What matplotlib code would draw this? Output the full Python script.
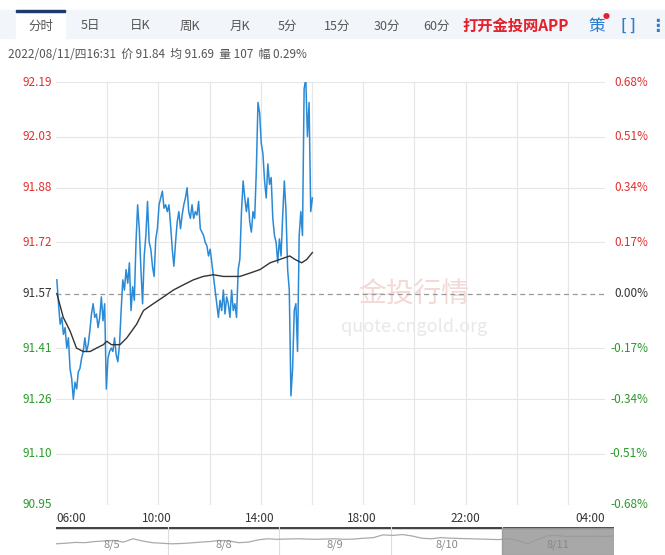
import numpy as np
import matplotlib
matplotlib.use("Agg")
import matplotlib.pyplot as plt
from matplotlib.patches import Rectangle

plt.rcParams['font.family'] = ['Noto Sans CJK SC', 'DejaVu Sans']

base = 91.57
yticks = [92.19, 92.03, 91.88, 91.72, 91.57, 91.41, 91.26, 91.10, 90.95]
pct_labels = ["0.68%", "0.51%", "0.34%", "0.17%", "0.00%", "-0.17%", "-0.34%", "-0.51%", "-0.68%"]
xtick_labels = ["06:00", "10:00", "14:00", "18:00", "22:00", "04:00"]
tabs = ["分时", "5日", "日K", "周K", "月K", "5分", "15分", "30分", "60分"]
info = "2022/08/11/四16:31  价 91.84  均 91.69  量 107  幅 0.29%"

price = [91.61,91.54,91.48,91.50,91.45,91.47,91.41,91.44,91.35,91.32,91.26,91.31,91.29,91.34,91.35,91.38,91.40,91.44,91.40,91.42,
         91.46,91.51,91.54,91.50,91.51,91.47,91.50,91.56,91.49,91.54,91.29,91.38,91.40,91.41,91.40,91.44,91.39,91.37,91.42,91.52,
         91.61,91.58,91.64,91.60,91.66,91.52,91.59,91.55,91.72,91.83,91.76,91.64,91.54,91.68,91.74,91.84,91.72,91.70,91.65,91.62,
         91.73,91.76,91.83,91.85,91.87,91.82,91.83,91.81,91.83,91.77,91.70,91.65,91.72,91.78,91.81,91.76,91.80,91.83,91.85,91.88,
         91.81,91.79,91.83,91.79,91.81,91.80,91.84,91.76,91.75,91.74,91.72,91.71,91.68,91.70,91.66,91.62,91.58,91.54,91.50,91.55,
         91.52,91.58,91.51,91.56,91.54,91.50,91.58,91.52,91.54,91.50,91.64,91.67,91.81,91.90,91.85,91.81,91.85,91.78,91.75,91.81,
         91.79,91.93,92.13,92.10,92.01,91.98,91.90,91.85,91.95,91.89,91.91,91.79,91.74,91.72,91.66,91.73,91.68,91.80,91.90,91.81,
         91.64,91.58,91.27,91.35,91.52,91.54,91.40,91.74,91.81,91.74,92.17,92.20,92.03,92.13,91.81,91.85]
price_t = np.linspace(2, 601, len(price))

avg_t = [2,17,33,48,64,80,95,111,119,130,150,166,189,205,228,252,275,298,322,345,369,392,416,431,455,478,502,525,548,560,576,588,601]
avg = [91.57,91.50,91.46,91.41,91.40,91.40,91.41,91.42,91.43,91.42,91.42,91.44,91.48,91.52,91.54,91.56,91.58,91.595,91.61,91.62,
       91.625,91.62,91.62,91.62,91.63,91.64,91.66,91.67,91.68,91.67,91.66,91.67,91.69]

nav_days = ["8/5", "8/8", "8/9", "8/10", "8/11"]
nav_vals = [40,42,45,44,48,50,52,46,58,50,44,42,40,41,43,46,48,52,50,44,46,54,58,56,57,58,57,56,57,58,56,57,60,62,72,70,73,68,60,
            58,62,60,59,58,57,56,55,58,52,40,55,68,70,66,67,66,67,66,68]

fig = plt.figure(figsize=(6.65, 5.55), dpi=100)
W, H = 665, 555
def fx(px): return px / W
def fy(py): return 1 - py / H

# tab bar
fig.patches.append(Rectangle((0, fy(38)), 1, 28 / H, transform=fig.transFigure, color="#f2f5fa", zorder=0))
fig.patches.append(Rectangle((fx(16), fy(38)), 49 / W, 28 / H, transform=fig.transFigure, color="white", zorder=1))
fig.patches.append(Rectangle((fx(16), fy(12)), 49 / W, 2 / H, transform=fig.transFigure, color="#1d3c6e", zorder=2))
tab_x = [41, 90, 140, 190, 240, 287, 337, 387, 436]
for t, x in zip(tabs, tab_x):
    fig.text(fx(x), fy(26), t, ha="center", va="center", fontsize=9, color="#555555", zorder=3)
fig.text(fx(462), fy(26), "打开金投网APP", ha="left", va="center", fontsize=11, color="#e4202a", weight="bold", zorder=3)
fig.text(fx(597), fy(26), "策", ha="center", va="center", fontsize=12, color="#2e7ccd", zorder=3)
fig.text(fx(606), fy(17), "●", ha="center", va="center", fontsize=5, color="#e4202a", zorder=3)
fig.text(fx(628), fy(26), "[ ]", ha="center", va="center", fontsize=11, color="#2e7ccd", weight="bold", zorder=3)
fig.text(fx(657), fy(26), "⋮", ha="center", va="center", fontsize=12, color="#2e7ccd", weight="bold", zorder=3, family="DejaVu Sans")
fig.text(fx(8), fy(55), info, ha="left", va="center", fontsize=8.5, color="#555555")

# main axes
ax = fig.add_axes([fx(56), fy(505), (605 - 56) / W, (505 - 82) / H])
ax.set_xlim(0, 1287)
ax.set_ylim(90.95, 92.19)
for s in ax.spines.values():
    s.set_visible(False)
ax.set_xticks([])
ax.set_yticks([])
for v in yticks:
    if v != base:
        ax.axhline(v, color="#e6e6e6", lw=0.8, zorder=0)
for m in range(120, 1287, 120):
    ax.axvline(m, color="#e6e6e6", lw=0.8, zorder=0)
ax.axhline(base, color="#999999", lw=0.9, ls=(0, (4, 3)), zorder=1)
ax.text(0.55, 0.5, "金投行情", transform=ax.transAxes, fontsize=20, color="#f3d9d6", ha="left", va="center", zorder=0.5)
ax.text(0.52, 0.42, "quote.cngold.org", transform=ax.transAxes, fontsize=13, color="#e8e8e8", ha="left", va="center", zorder=0.5)
ax.plot(price_t, price, color="#2b8ad6", lw=1.1, zorder=3)
ax.plot(avg_t, avg, color="#333333", lw=1.0, zorder=4)

for v, p in zip(yticks, pct_labels):
    c = "#e03030" if v > base else ("#333333" if v == base else "#2a9a2a")
    y = fy(505) + (v - 90.95) / (92.19 - 90.95) * (505 - 82) / H
    fig.text(fx(52), y, f"{v:.2f}", ha="right", va="center", fontsize=8.5, color=c)
    fig.text(fx(648), y, p, ha="right", va="center", fontsize=8.5, color=c)

lab_px = [56, 157, 260, 362, 465, 605]
for i, (lab, px) in enumerate(zip(xtick_labels, lab_px)):
    ha = "left" if i == 0 else ("right" if i == len(lab_px) - 1 else "center")
    fig.text(fx(px), fy(519), lab, ha=ha, va="center", fontsize=8.5, color="#333333")

# navigator
nav = fig.add_axes([fx(56), 0, (614 - 56) / W, fy(527)])
nav.set_xlim(0, len(nav_vals) - 1)
nav.set_ylim(0, 100)
for s in nav.spines.values():
    s.set_visible(False)
nav.set_xticks([])
nav.set_yticks([])
nav.axhline(100, color="#444444", lw=2.5)
n = len(nav_vals) - 1
for k in range(1, 5):
    nav.axvline(n * k / 5, color="#dddddd", lw=0.8)
nav.plot(range(len(nav_vals)), nav_vals, color="#aaaaaa", lw=0.9)
nav.add_patch(Rectangle((n * 4 / 5, 0), n / 5, 96, color="#999999", alpha=0.85, zorder=3))
for k, d in enumerate(nav_days):
    nav.text(n * (k + 0.5) / 5, 35, d, ha="center", va="center", fontsize=8, color="#888888", zorder=4)

fig.savefig("out.png", dpi=100)
